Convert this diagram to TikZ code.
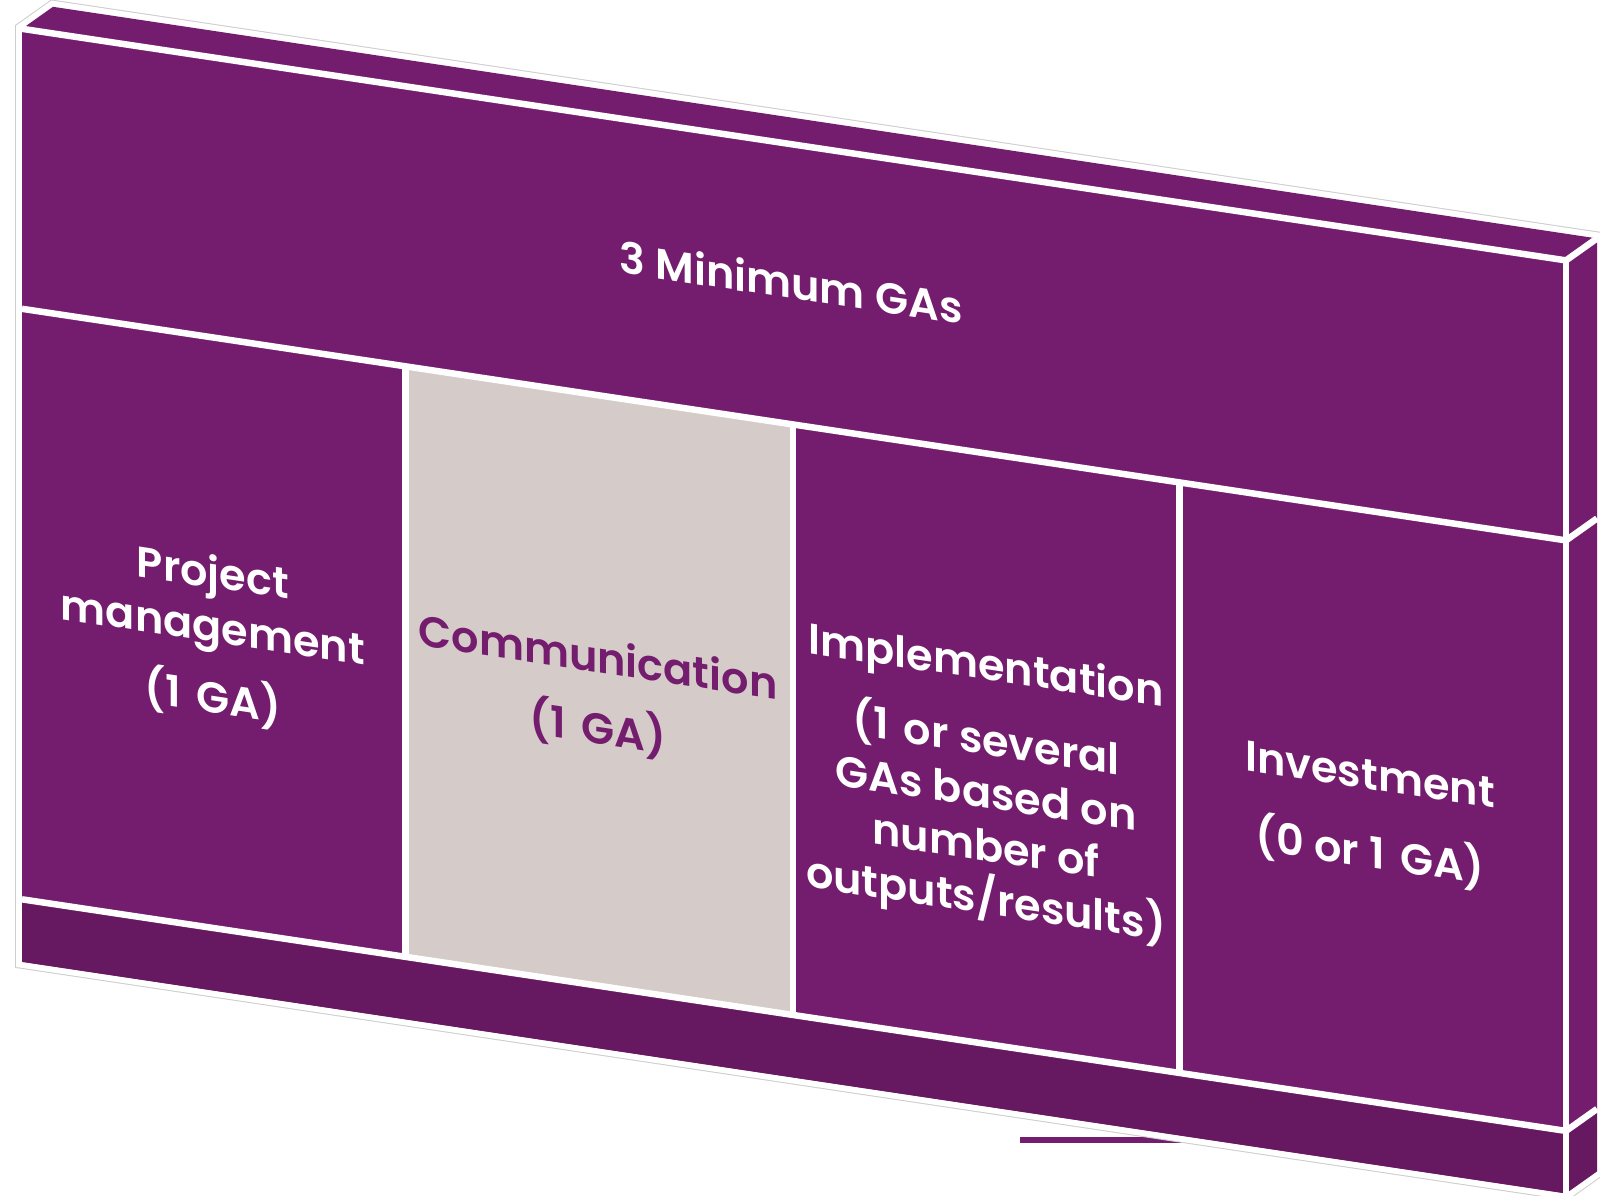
\documentclass[tikz,border=0pt]{standalone}
\usepackage{fontspec}
\setmainfont{Poppins}[BoldFont={Poppins SemiBold}]
\definecolor{gapurple}{RGB}{116,28,110}
\definecolor{gadark}{RGB}{102,25,96}
\definecolor{gagrey}{RGB}{213,204,201}
\definecolor{gaoutline}{RGB}{205,205,205}
\newcommand{\gaone}{1\kern0.12em}
\begin{document}
\begin{tikzpicture}[x=1pt,y=-1pt,
  sepline/.style={white, line width=6.5pt},
  lbl/.style={anchor=base, inner sep=0pt, text=white,
    font=\fontsize{43}{52}\selectfont\bfseries, transform shape},
  lblp/.style={lbl, text=gapurple}]
\useasboundingbox (0,0) rectangle (1600,1195);
% stray bar under the slab
\fill[gapurple] (1020,1137) rectangle (1200,1143);
% silhouette outline
\coordinate (s1) at (22,28.8);
\coordinate (s2) at (53,6.8);
\coordinate (s3) at (1597,238.4);
\coordinate (s4) at (1597,1171.4);
\coordinate (s5) at (1566,1193.4);
\coordinate (s6) at (22,961.8);
\coordinate (s7) at (1566,260.4);
\draw[gaoutline, line width=14pt] (s1) -- (s2) -- (s3) -- (s4) -- (s5) -- (s6) -- cycle;
\draw[white, line width=12pt] (s1) -- (s2) -- (s3) -- (s4) -- (s5) -- (s6) -- cycle;
% top face
\fill[gapurple] (s1) -- (s2) -- (s3) -- (s7) -- cycle;
% side face
\coordinate (t1) at (1566,540.4);
\coordinate (t2) at (1597,518.4);
\coordinate (b1) at (1566,1130.9);
\coordinate (b2) at (1597,1108.9);
\fill[gapurple] (s7) -- (s3) -- (b2) -- (b1) -- cycle;
\fill[gadark] (b1) -- (b2) -- (s4) -- (s5) -- cycle;
\draw[sepline] (s7) -- (s3);
\draw[sepline] (t1) -- (t2);
\draw[sepline] (b1) -- (b2);
% front face (sheared frame: image y = u + 0.15 x)
\begin{scope}[yslant=-0.15]
  \fill[gapurple] (22,25.5) rectangle (1566,958.5);
  \fill[gagrey] (405.5,305.5) rectangle (793,896);
  \fill[gadark] (22,896) rectangle (1566,958.5);
  \draw[sepline] (19,25.5) -- (1569,25.5);
  \draw[sepline] (1566,25.5) -- (1566,962);
  \draw[sepline] (22,305.5) -- (1566,305.5);
  \draw[sepline] (22,896) -- (1566,896);
  \draw[sepline] (405.5,305.5) -- (405.5,896);
  \draw[sepline] (793,305.5) -- (793,896);
  \draw[sepline] (1179.5,305.5) -- (1179.5,896);
  % texts
  \node[lbl] (title) at (791,180) {3 Minimum GAs};
  \node[lbl] (c1a) at (213,556) {Project};
  \node[lbl] (c1b) at (213,610) {management};
  \node[lbl] (c1c) at (213,681) {(\gaone{} GA)};
  \node[lblp] (c2a) at (598,583) {Communication};
  \node[lblp] (c2b) at (598,654) {(\gaone{} GA)};
  \node[lbl] (c3a) at (986,532) {Implementation};
  \node[lbl] (c3b) at (986,607) {(\gaone{} or several};
  \node[lbl] (c3c) at (986,660) {GAs based on};
  \node[lbl] (c3d) at (986,713) {number of};
  \node[lbl] (c3e) at (986,766) {outputs/results)};
  \node[lbl] (c4a) at (1370,584) {Investment};
  \node[lbl] (c4b) at (1370,662) {(0 or \gaone{} GA)};
\end{scope}
\end{tikzpicture}
\end{document}
